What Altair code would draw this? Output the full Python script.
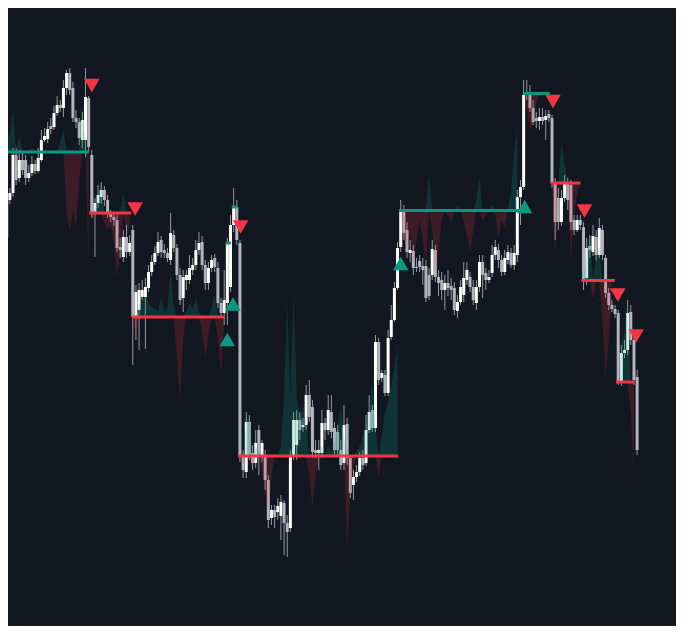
import altair as alt
import pandas as pd

# ---- candle data (price units) ----
opens = [403,440,447,485,462,480,480,462,467,476,
         469,480,500,501,514,513,527,535,532,552,
         567,552,522,518,500,500,542,485,427,437,
         443,450,440,427,423,420,393,383,403,388,
         410,323,330,343,343,352,368,378,387,400,
         390,387,380,405,392,365,342,360,360,370,
         375,390,398,375,357,372,382,372,337,327,
         337,353,415,433,397,183,168,218,187,177,
         210,185,185,160,122,130,128,124,137,117,
         112,185,195,220,213,215,245,233,190,187,
         187,217,210,228,212,208,190,177,216,182,
         155,163,168,182,177,210,230,212,298,262,
         265,247,303,320,352,393,428,410,387,389,
         373,379,374,374,365,365,390,363,360,350,
         357,354,352,329,338,345,360,363,353,337,
         353,378,367,360,367,385,390,380,368,380,
         387,375,385,443,453,547,545,532,522,519,
         523,520,526,522,457,442,418,442,457,455,
         420,410,420,413,362,394,388,403,385,410,
         382,347,335,331,327,258,287,290,328,300,
         263]
closes = [440,447,485,460,480,470,462,467,476,469,
          482,500,504,511,511,527,535,532,552,567,
          550,522,518,502,520,543,493,427,437,445,
          450,440,427,423,420,392,390,403,388,397,
          323,348,350,350,353,368,378,387,398,388,
          387,382,407,392,365,340,363,365,372,375,
          390,397,375,357,372,380,373,337,327,340,
          397,415,433,400,183,170,218,185,177,197,
          185,197,160,120,130,123,134,138,117,108,
          183,220,220,210,215,245,223,188,187,190,
          217,210,230,208,190,190,175,215,182,147,
          163,168,182,175,210,228,212,298,260,267,
          247,302,320,352,392,430,407,388,390,372,
          372,373,370,342,344,391,363,357,350,357,
          352,350,330,338,353,362,370,353,340,353,
          378,365,360,363,385,393,380,368,382,388,
          375,387,443,453,545,545,532,518,519,523,
          519,524,522,457,418,418,442,457,440,418,
          410,420,415,360,392,390,404,385,412,385,
          347,335,331,326,258,287,290,327,300,260,
          190]
highs = [444,452,492,492,490,488,485,475,484,480,
         492,510,512,518,522,534,544,540,560,570,
         572,558,530,522,528,572,544,490,442,455,
         458,454,445,430,428,425,402,410,415,405,
         415,355,357,360,362,375,385,394,408,404,
         396,392,427,410,396,372,370,370,385,382,
         400,408,404,380,378,385,386,378,342,370,
         402,425,452,440,400,190,228,225,195,210,
         215,200,190,165,135,135,142,145,140,125,
         190,228,230,228,222,255,260,240,200,200,
         230,222,245,245,218,215,200,235,222,185,
         170,175,188,190,225,245,235,305,302,270,
         270,310,335,358,398,440,435,418,400,395,
         382,385,382,380,372,400,395,370,368,365,
         370,362,358,345,360,378,378,368,360,360,
         385,385,372,370,395,400,396,385,390,395,
         392,395,450,460,560,560,555,540,528,532,
         532,530,530,525,462,452,450,465,462,460,
         425,425,425,418,402,405,415,410,422,415,
         385,352,340,335,330,295,300,340,335,305,
         270]
lows = [393,436,443,455,458,465,455,458,464,466,
        467,478,498,497,506,510,524,528,523,545,
        545,518,512,495,492,483,488,422,383,432,
        436,434,422,418,414,388,382,378,382,384,
        275,300,290,340,291,348,364,375,384,382,
        382,378,375,388,360,335,328,350,356,365,
        370,385,370,350,350,368,368,332,322,315,
        315,348,408,395,178,162,162,180,170,172,
        165,178,150,112,115,112,120,100,85,83,
        108,180,180,200,208,210,218,182,182,170,
        182,200,205,202,185,184,170,170,175,142,
        140,158,164,170,174,207,208,208,255,258,
        244,244,300,318,350,388,400,382,378,365,
        368,368,355,338,340,360,358,344,340,330,
        344,340,325,322,335,338,355,348,335,330,
        348,342,350,357,363,380,372,364,365,376,
        372,370,378,415,450,540,528,515,512,510,
        515,500,518,452,400,410,414,438,430,410,
        405,408,410,350,355,382,384,380,382,380,
        342,330,328,322,255,254,282,285,295,255,
        185]

# ---- oscillating flow around the active level (+ above / - below) ----
flow = [22,15,44,-12,16,-8,0,0,5,0,
        0,0,0,0,0,0,0,10,22,-60,
        -80,-60,-75,-30,48,10,-116,-10,5,20,
        33,-10,-17,-12,-30,-62,-40,21,-20,-15,
        -5,-20,12,18,20,15,10,8,5,20,
        5,10,47,10,-40,-83,-20,5,14,8,
        19,5,-15,-40,-20,10,22,-20,-56,-10,
        0,0,0,0,0,-8,35,40,-14,10,
        5,-15,-35,-54,-20,0,0,10,60,153,
        60,161,60,40,49,30,-20,-52,-20,5,
        10,0,10,5,15,30,49,20,-94,-40,
        -10,5,10,20,30,50,76,30,-21,20,
        43,55,70,90,109,-5,-27,-40,-20,-52,
        -30,-10,-30,-52,37,-20,-63,-40,-10,0,
        -5,-13,0,5,0,-10,-25,-42,-20,10,
        32,-10,-5,0,7,-5,-27,-10,-17,0,
        20,60,80,0,0,-15,-37,-30,-10,0,
        0,0,0,0,-70,-20,40,20,-10,-77,
        -30,-10,0,-5,35,44,-19,25,33,-40,
        -97,-60,-20,0,0,40,50,85,-30,-91,
        0]

# ---- horizontal levels ----
level_start = [-0.5, 26.2, 39.8, 69.5, 71.4, 73.5, 124.5, 163.9, 172.6, 182.3, 193.3]
level_end = [26.06, 39.5, 69.2, 71.1, 73.25, 124.2, 162.6, 172.3, 182.0, 192.9, 199.0]
level_price = [488, 427, 323, 397, 433, 184, 429.5, 546.5, 457, 359.5, 258]
level_kind = ["bull", "bear", "bear", "bull", "bull", "bear", "bull", "bull", "bear", "bear", "bear"]

# ---- signal triangles ----
down_idx = [27.0, 40.75, 74.2, 173.3, 183.3, 193.9, 199.7]
down_price = [554.5, 431, 413, 538.5, 429, 345, 304]
up_idx = [70.0, 71.8, 125.0, 164.3]
up_price = [300.5, 336, 376.5, 433.5]

BG = "#131722"
TEAL = "#089981"
RED = "#f23645"
BULL_BODY = "#ffffff"
BEAR_BODY = "#b2b5be"

n = len(closes)
candles = pd.DataFrame({"bar": list(range(n)), "open": opens, "close": closes,
                        "high": highs, "low": lows})
candles["fill"] = [BULL_BODY if c >= o else BEAR_BODY for o, c in zip(opens, closes)]

rows = []
for i in range(n):
    for k, (a, b) in enumerate(zip(level_start, level_end)):
        if a <= i <= b:
            base = level_price[k]
            f = flow[i]
            rows.append({"bar": i, "seg": k, "base": base,
                         "top": base + max(f, 0), "bot": base + min(f, 0)})
            break
areas = pd.DataFrame(rows)

levels = pd.DataFrame({"start": level_start, "end": level_end, "price": level_price,
                       "fill": [TEAL if k == "bull" else RED for k in level_kind]})
downs = pd.DataFrame({"bar": down_idx, "price": down_price})
ups = pd.DataFrame({"bar": up_idx, "price": up_price})

xs = alt.Scale(domain=[2, 210.75], nice=False, zero=False)
ys = alt.Scale(domain=[14, 632], nice=False, zero=False)

wicks = alt.Chart(candles).mark_rule(color="#9598a1", strokeWidth=1, clip=True).encode(
    x=alt.X("bar:Q", scale=xs, axis=None),
    y=alt.Y("low:Q", scale=ys, axis=None),
    y2="high:Q",
)
bodies = alt.Chart(candles).mark_bar(size=3.0, clip=True).encode(
    x=alt.X("bar:Q", scale=xs, axis=None),
    y=alt.Y("open:Q", scale=ys, axis=None),
    y2="close:Q",
    color=alt.Color("fill:N", scale=None),
)
teal_area = alt.Chart(areas).mark_area(color=TEAL, opacity=0.22, clip=True).encode(
    x=alt.X("bar:Q", scale=xs, axis=None),
    y=alt.Y("base:Q", scale=ys, axis=None),
    y2="top:Q",
    detail="seg:N",
)
red_area = alt.Chart(areas).mark_area(color=RED, opacity=0.18, clip=True).encode(
    x=alt.X("bar:Q", scale=xs, axis=None),
    y=alt.Y("base:Q", scale=ys, axis=None),
    y2="bot:Q",
    detail="seg:N",
)
level_rules = alt.Chart(levels).mark_rule(strokeWidth=3, clip=True).encode(
    x=alt.X("start:Q", scale=xs, axis=None),
    x2="end:Q",
    y=alt.Y("price:Q", scale=ys, axis=None),
    color=alt.Color("fill:N", scale=None),
)
tri_down = alt.Chart(downs).mark_point(shape="triangle-down", filled=True, size=240,
                                         color=RED, opacity=1).encode(
    x=alt.X("bar:Q", scale=xs, axis=None),
    y=alt.Y("price:Q", scale=ys, axis=None),
)
tri_up = alt.Chart(ups).mark_point(shape="triangle-up", filled=True, size=240,
                                     color=TEAL, opacity=1).encode(
    x=alt.X("bar:Q", scale=xs, axis=None),
    y=alt.Y("price:Q", scale=ys, axis=None),
)

chart = alt.layer(wicks, bodies, teal_area, red_area, level_rules, tri_down, tri_up).properties(
    width=668, height=618, background=BG, padding=0
).configure_view(strokeWidth=0)

chart.save("out.html", embed_options={"renderer": "svg", "actions": False})
